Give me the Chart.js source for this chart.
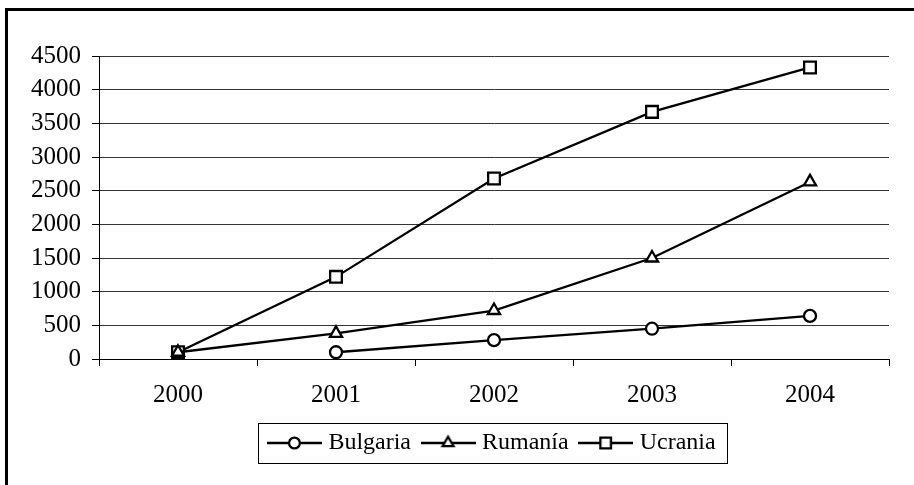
<!DOCTYPE html>
<html>
<head>
<meta charset="utf-8">
<script src="https://cdn.jsdelivr.net/npm/chart.js@4.4.1/dist/chart.umd.min.js"></script>
<style>
  html, body { margin: 0; padding: 0; background: #fff; overflow: hidden; }
  #marco { position: absolute; left: 5px; top: 8px; width: 906px; height: 474px;
           border-left: 3px solid #000; border-top: 3px solid #000; }
  #grafico { display: block; }
</style>
</head>
<body>
<div id="marco"><canvas id="grafico" width="906" height="474"></canvas></div>
<script>
/* Datos del gráfico */
var anios = ['2000', '2001', '2002', '2003', '2004'];
var paises = ['Bulgaria', 'Rumanía', 'Ucrania'];
var bulgaria = [null, 100, 280, 450, 640];
var rumania = [100, 380, 720, 1500, 2630];
var ucrania = [100, 1220, 2680, 3670, 4330];
var ticksY = [0, 500, 1000, 1500, 2000, 2500, 3000, 3500, 4000, 4500];

var fuente = "'Liberation Serif', 'Times New Roman', serif";
var estilos = ['circle', 'triangle', 'rect'];
var radios = [6, 7, 8.3];

// Icono de leyenda: línea con el marcador en medio
function iconoLeyenda(estilo, radio) {
  var c = document.createElement('canvas');
  c.width = 55; c.height = 24;
  var ctx = c.getContext('2d');
  ctx.strokeStyle = '#000';
  ctx.lineWidth = 2.3;
  ctx.beginPath();
  ctx.moveTo(0, 12);
  ctx.lineTo(55, 12);
  ctx.stroke();
  ctx.fillStyle = '#fff';
  Chart.helpers.drawPoint(ctx, { pointStyle: estilo, radius: radio, rotation: 0, borderWidth: 2.3 }, 27.5, 12);
  return c;
}

var iconos = estilos.map(function (s, i) { return iconoLeyenda(s, radios[i] * 0.9); });

// Recuadro alrededor de la leyenda
var marcoLeyenda = {
  id: 'marcoLeyenda',
  afterDraw: function (chart) {
    var hb = chart.legend && chart.legend.legendHitBoxes;
    if (!hb || !hb.length) return;
    var ult = hb[hb.length - 1];
    var izq = Math.round(hb[0].left - 14);
    var der = Math.round(ult.left + ult.width + 11);
    var arr = Math.round(hb[0].top - 8);
    var aba = Math.round(hb[0].top + hb[0].height + 8);
    var ctx = chart.ctx;
    ctx.save();
    ctx.strokeStyle = '#000';
    ctx.lineWidth = 1;
    ctx.strokeRect(izq + 0.5, arr + 0.5, der - izq, aba - arr);
    ctx.restore();
  }
};

function serie(nombre, datos, i) {
  return {
    label: nombre,
    data: datos,
    borderColor: '#000',
    borderWidth: 2.3,
    tension: 0,
    pointStyle: estilos[i],
    pointRadius: radios[i],
    pointHoverRadius: radios[i],
    pointBorderWidth: 2.3,
    pointBackgroundColor: '#fff',
    pointBorderColor: '#000'
  };
}

new Chart(document.getElementById('grafico'), {
  type: 'line',
  data: {
    labels: anios,
    datasets: [
      serie(paises[0], bulgaria, 0),
      serie(paises[1], rumania, 1),
      serie(paises[2], ucrania, 2)
    ]
  },
  options: {
    responsive: false,
    animation: false,
    devicePixelRatio: 1,
    layout: { padding: { top: 45, right: 25, bottom: 20, left: 0 } },
    plugins: {
      tooltip: { enabled: false },
      legend: {
        position: 'bottom',
        fullSize: false,
        labels: {
          usePointStyle: true,
          pointStyleWidth: 44,
          padding: 15,
          color: '#000',
          font: { family: fuente, size: 24 },
          generateLabels: function () {
            return paises.map(function (p, i) {
              return { text: p, pointStyle: iconos[i], datasetIndex: i, hidden: false, lineWidth: 0, fontColor: '#000' };
            });
          }
        }
      }
    },
    scales: {
      x: {
        offset: true,
        afterFit: function (s) { s.height = 57; },
        grid: { offset: true, drawOnChartArea: false, drawTicks: true, tickLength: 7, color: '#000' },
        border: { color: '#000', width: 1 },
        ticks: { color: '#000', padding: 14, font: { family: fuente, size: 25 } }
      },
      y: {
        min: 0,
        max: 4500,
        afterFit: function (s) { s.width = 91; },
        afterBuildTicks: function (s) { s.ticks = ticksY.map(function (v) { return { value: v }; }); },
        grid: { color: '#333', tickColor: '#000', tickLength: 7 },
        border: { color: '#000', width: 1 },
        ticks: {
          color: '#000',
          padding: 11,
          font: { family: fuente, size: 25 },
          callback: function (v) { return String(v); }
        }
      }
    }
  },
  plugins: [marcoLeyenda]
});
</script>
</body>
</html>
